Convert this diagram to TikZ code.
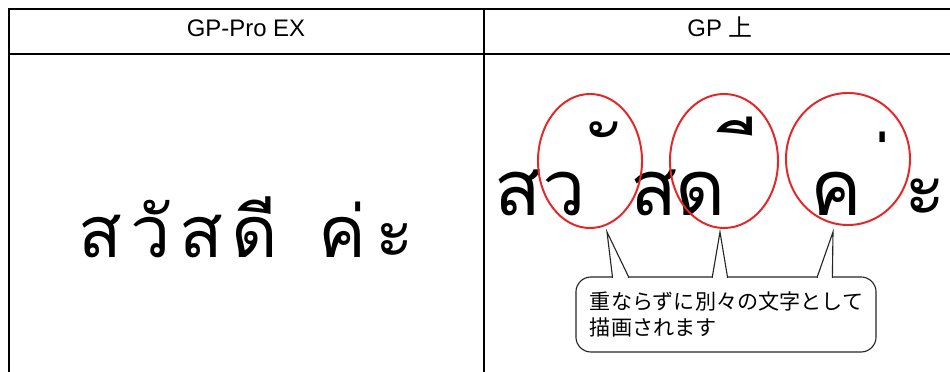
\documentclass[tikz,border=0pt]{standalone}
\usepackage{fontspec}
\setmainfont{Liberation Sans}
\newfontfamily\thaifont[Script=Thai]{Loma}
\newfontfamily\jpfont{Noto Sans CJK JP}
\usetikzlibrary{positioning,calc,shapes.geometric}
\definecolor{ringred}{RGB}{228,38,38}
\newcommand{\gap}{\hspace{6pt}}
\newcommand{\nbs}{\char"00A0}

\begin{document}
\begin{tikzpicture}[x=0.025cm, y=-0.025cm,
            rule/.style={line width=1.4pt},
            header/.style={font=\fontsize{17}{20}\selectfont, anchor=base},
            thaiL/.style={font=\thaifont\fontsize{51}{56}\selectfont, anchor=base, inner sep=0pt},
            thaiR/.style={font=\thaifont\fontsize{55}{60}\selectfont, anchor=base west, inner sep=0pt},
            ring/.style={ellipse, draw=ringred, line width=1.4pt, inner sep=0pt},
            note/.style={draw=black!85, line width=0.8pt, rounded corners=0.375cm, fill=white,
                minimum width=7.5cm, minimum height=1.875cm, align=left, text width=6.8cm,
                font=\jpfont\fontsize{15}{18}\selectfont},
            pointer/.style={draw=black!85, line width=0.8pt, fill=white}
        ]
        \useasboundingbox (0,0) rectangle (950,372);

        % Table
        \draw[rule] (950,9) -- (9,9) -- (9,372);
        \draw[rule] (9,54) -- (950,54);
        \draw[rule] (484,9) -- (484,372);

        % Headers
        \node[header] (hdrL) at (246,37) {GP-Pro EX};
        \node[header] (hdrR) at (720,37) {GP \jpfont 上};

        % Left cell
        \node[thaiL] (hello) at (246,258) {ส\gap วั\gap ส\gap ดี\gap\ \gap ค่\gap ะ};

        % Right cell, one glyph per node
        \node[thaiR] (so1) at (494,216) {ส};
        \node[thaiR] (wo) at (542,216) {ว};
        \node[thaiR] (mk1) at (597,184) {\nbs ั};
        \node[thaiR] (so2) at (630,216) {ส};
        \node[thaiR] (do) at (675,216) {ด};
        \node[thaiR] (mk2) at (738,183) {\nbs ี};
        \node[thaiR] (kho) at (810,216) {ค};
        \node[thaiR] (mk3) at (871,212) {\nbs ่};
        \node[thaiR] (sa) at (904,216) {ะ};

        % Red rings
        \node[ring, minimum width=2.6cm, minimum height=3.35cm] (e1) at (590,161) {};
        \node[ring, minimum width=2.7cm, minimum height=3.35cm] (e2) at (724,161) {};
        \node[ring, minimum width=3.1cm, minimum height=3.3cm] (e3) at (848,159) {};

        % Callout
        \node[note] (msg) at (726,314.5) {重ならずに別々の文字として\\描画されます};
        \coordinate (tip1) at (607,232);
        \coordinate (tip2) at (720,232);
        \coordinate (tip3) at (833,232);
        \path[pointer] ($(msg.north west)+(37,1.5)$) -- ($(msg.north west)+(37,0)$) -- (tip1)
            -- ($(msg.north west)+(53,0)$) -- ++(0,1.5);
        \path[pointer] ($(msg.north west)+(137,1.5)$) -- ($(msg.north west)+(137,0)$) -- (tip2)
            -- ($(msg.north west)+(152,0)$) -- ++(0,1.5);
        \path[pointer] ($(msg.north west)+(242,1.5)$) -- ($(msg.north west)+(242,0)$) -- (tip3)
            -- ($(msg.north west)+(257,0)$) -- ++(0,1.5);
    \end{tikzpicture}
\end{document}
